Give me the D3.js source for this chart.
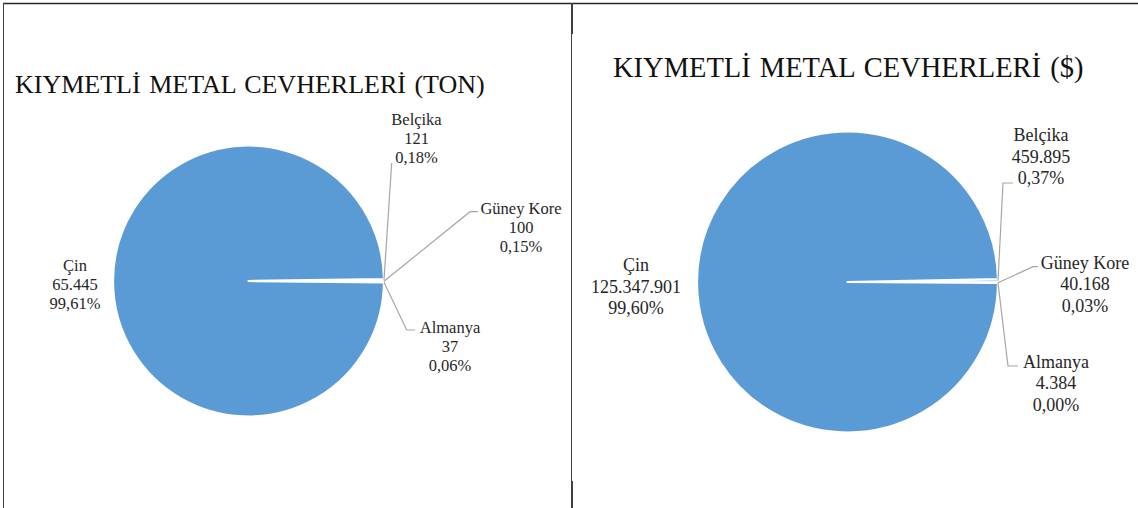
<!DOCTYPE html>
<html>
<head>
    <meta charset="utf-8">
    <title>Kıymetli Metal Cevherleri</title>
    <script src="https://d3js.org/d3.v7.min.js"></script>
    <style>
        body { margin: 0; background: #fff; }
        svg text { font-family: "Liberation Serif", "Times New Roman", "DejaVu Serif", serif; }
        .lbl { fill: #262626; }
    </style>
</head>
<body>
<div id="chart"></div>
<script>
// ülkeler (saat yönünde, küçük dilimler önce)
const countries = ["Belçika", "Güney Kore", "Almanya", "Çin"];
// miktar (ton)
const tonValues = [121, 100, 37, 65445];
// değer ($)
const usdValues = [459895, 40168, 4384, 125347901];

const titleTon = "KIYMETLİ METAL CEVHERLERİ (TON)";
const titleUsd = "KIYMETLİ METAL CEVHERLERİ ($)";

const width = 1138;
const height = 508;
const serif = "Liberation Serif";

const svg = d3.select("#chart")
    .append("svg")
    .attr("width", width)
    .attr("height", height);

// çerçeve çizgileri
svg.append("line").attr("x1", 3).attr("x2", width).attr("y1", 3.5).attr("y2", 3.5)
    .attr("stroke", "#262626").attr("stroke-width", 1.5);
svg.append("line").attr("x1", 3.5).attr("x2", 3.5).attr("y1", 3).attr("y2", height)
    .attr("stroke", "#404040").attr("stroke-width", 1);
svg.append("line").attr("x1", 571.5).attr("x2", 571.5).attr("y1", 3).attr("y2", height)
    .attr("stroke", "#404040").attr("stroke-width", 1);
svg.append("line").attr("x1", 572.5).attr("x2", 572.5).attr("y1", 3).attr("y2", 34)
    .attr("stroke", "#404040").attr("stroke-width", 1);
svg.append("line").attr("x1", 572.5).attr("x2", 572.5).attr("y1", 481).attr("y2", height)
    .attr("stroke", "#404040").attr("stroke-width", 1);

const tr = d3.formatLocale({ decimal: ",", thousands: ".", grouping: [3], currency: ["", ""] });
const fmtNum = tr.format(",d");
const fmtPct = tr.format(".2%");

// etiket yerleşimi (pasta merkezine göre)
const chartsCfg = [
    {
        title: titleTon, values: tonValues,
        titleX: 15, titleY: 93, titleSize: 26,
        cx: 248.5, cy: 281, r: 135.5, startDeg: 89.2,
        fontSize: 16.5, lineH: 19,
        labels: [
            { x: 168, y: -162, leader: [[143.2, -118], [143.2, -118]] },
            { x: 272.5, y: -73, leader: [[221.5, -69.3], [229.5, -69.3]] },
            { x: 201.5, y: 46.7, leader: [[158.2, 49], [166.5, 49]] },
            { x: -173.5, y: -16, leader: null }
        ]
    },
    {
        title: titleUsd, values: usdValues,
        titleX: 613, titleY: 76.5, titleSize: 28.5,
        cx: 847.5, cy: 282, r: 150.5, startDeg: 88.9,
        fontSize: 18, lineH: 21.3,
        labels: [
            { x: 193.5, y: -147, leader: [[155.5, -99], [165.5, -99]] },
            { x: 237.5, y: -19.3, leader: [[185.5, -15.3], [190.5, -15.3]] },
            { x: 208.5, y: 79.7, leader: [[160.5, 84], [170.5, 84]] },
            { x: -211.5, y: -17, leader: null }
        ]
    }
];

chartsCfg.forEach(cfg => {
    const g = svg.append("g");

    g.append("text")
        .attr("x", cfg.titleX)
        .attr("y", cfg.titleY)
        .attr("font-family", serif)
        .attr("font-size", cfg.titleSize)
        .attr("fill", "#111")
        .style("word-spacing", "2px")
        .text(cfg.title);

    const total = d3.sum(cfg.values);
    const a0 = cfg.startDeg * Math.PI / 180;
    const pie = d3.pie().sort(null).startAngle(a0).endAngle(a0 + 2 * Math.PI);
    const arcs = pie(cfg.values);
    const arc = d3.arc().innerRadius(0).outerRadius(cfg.r);

    const pg = g.append("g").attr("transform", `translate(${cfg.cx},${cfg.cy})`);

    pg.selectAll("path")
        .data(arcs)
        .enter()
        .append("path")
        .attr("d", arc)
        .attr("fill", "#5B9BD5")
        .attr("stroke", "#fff")
        .attr("stroke-width", 2.2)
        .attr("stroke-linejoin", "round");

    arcs.forEach((a, i) => {
        const lab = cfg.labels[i];
        if (lab.leader) {
            const mid = (a.startAngle + a.endAngle) / 2;
            const p0 = [Math.sin(mid) * cfg.r, -Math.cos(mid) * cfg.r];
            const pts = [p0].concat(lab.leader);
            pg.append("path")
                .attr("d", d3.line()(pts))
                .attr("fill", "none")
                .attr("stroke", "#A6A6A6")
                .attr("stroke-width", 1.2);
        }
        const lines = [
            countries[i],
            fmtNum(cfg.values[i]),
            fmtPct(cfg.values[i] / total)
        ];
        const t = pg.append("text")
            .attr("class", "lbl")
            .attr("text-anchor", "middle")
            .attr("font-family", serif)
            .attr("font-size", cfg.fontSize);
        lines.forEach((s, k) => {
            t.append("tspan")
                .attr("x", lab.x)
                .attr("y", lab.y + k * cfg.lineH)
                .attr("dy", "0.35em")
                .attr("font-family", serif)
                .text(s);
        });
    });
});
</script>
</body>
</html>
